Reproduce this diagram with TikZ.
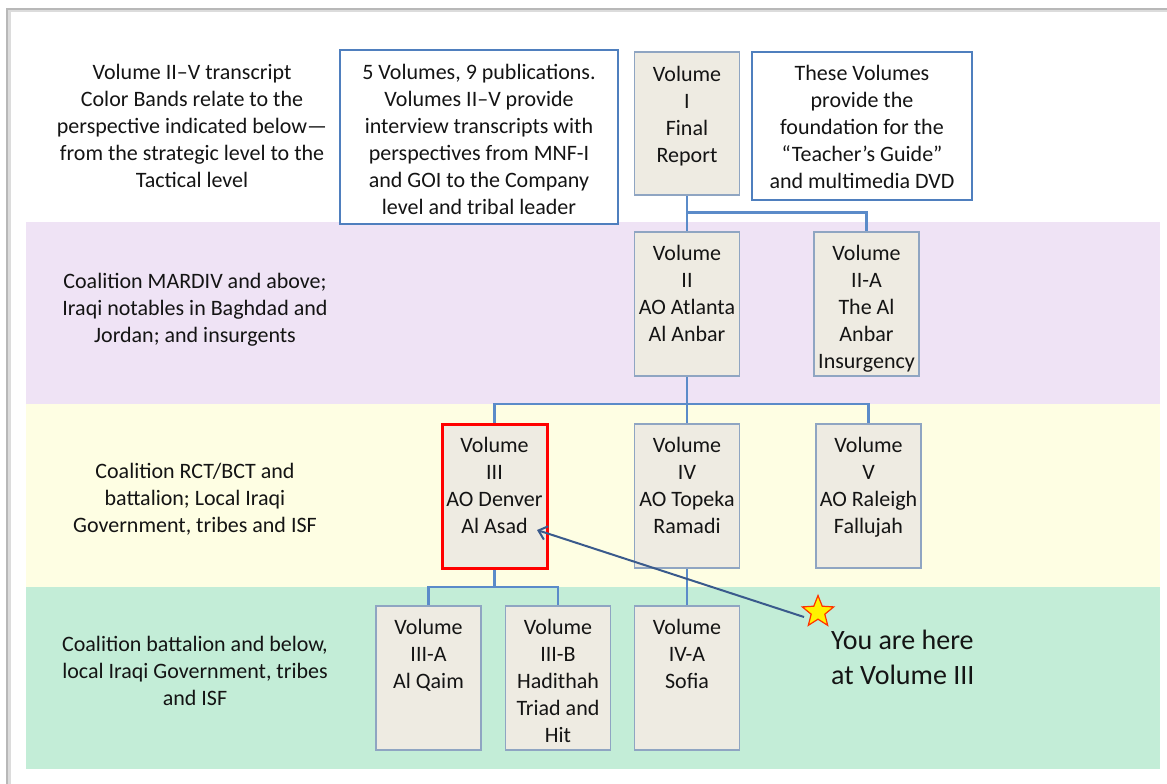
\documentclass[tikz,border=0pt]{standalone}
\usepackage{fontspec}
\setmainfont{Carlito}
\usetikzlibrary{arrows.meta,shapes.geometric}
\definecolor{bandP}{HTML}{EFE3F5}
\definecolor{bandY}{HTML}{FEFEE3}
\definecolor{bandG}{HTML}{C3EDD7}
\definecolor{volfill}{HTML}{EEEBE2}
\definecolor{volborder}{HTML}{8FA5C2}
\definecolor{infoblue}{HTML}{4F7FBE}
\definecolor{connblue}{HTML}{5B8BC9}
\definecolor{arrowblue}{HTML}{3A5A8C}
\definecolor{framegray}{HTML}{B8B8B8}
\begin{document}
\begin{tikzpicture}[x=1pt,y=-1pt,
  vol/.style={draw=volborder, fill=volfill, line width=1.5pt, minimum width=105pt, minimum height=144pt, inner sep=0pt},
  voltxt/.style={anchor=north, align=center, font=\fontsize{22}{27}\selectfont, inner sep=0pt, text=black!92},
  info/.style={draw=infoblue, fill=white, line width=2pt, inner sep=0pt},
  lbl/.style={anchor=north, align=center, font=\fontsize{22}{27}\selectfont, inner sep=0pt, text=black!92},
  conn/.style={draw=connblue, line width=2.5pt}
]
\useasboundingbox[fill=white] (0,0) rectangle (1167,784);
% frame
\draw[framegray!50, line width=3pt] (9,784) -- (9,11) -- (1167,11);
\draw[framegray, line width=1.2pt] (7,784) -- (7,9) -- (1167,9);
% bands
\fill[bandP] (26,222) rectangle (1160,404);
\fill[bandY] (26,404) rectangle (1160,587);
\fill[bandG] (26,587) rectangle (1160,769);
% left labels
\node[lbl] (intro) at (192,64) {Volume II–V transcript\\Color Bands relate to the\\perspective indicated below—\\from the strategic level to the\\Tactical level};
\node[lbl] (lblP) at (195,273) {Coalition MARDIV and above;\\Iraqi notables in Baghdad and\\Jordan; and insurgents};
\node[lbl] (lblY) at (195,463.5) {Coalition RCT/BCT and\\battalion; Local Iraqi\\Government, tribes and ISF};
\node[lbl] (lblG) at (195,636.5) {Coalition battalion and below,\\local Iraqi Government, tribes\\and ISF};
% info boxes
\node[info, minimum width=278pt, minimum height=174pt] (boxA) at (479,137) {};
\node[lbl] (boxAtxt) at (479,64.5) {5 Volumes, 9 publications.\\Volumes II–V provide\\interview transcripts with\\perspectives from MNF-I\\and GOI to the Company\\level and tribal leader};
\node[info, minimum width=220pt, minimum height=148pt] (boxC) at (862,126) {};
\node[lbl] (boxCtxt) at (862,65.5) {These Volumes\\provide the\\foundation for the\\“Teacher’s Guide”\\and multimedia DVD};
% junction coordinates
\coordinate (j1) at (687,212.5);
\coordinate (j2) at (687,404);
\coordinate (j3) at (494.5,587);
% volume box positions
\node[vol, minimum height=143pt] (v1) at (687,123.5) {};
\node[vol] (v2) at (687,304) {};
\node[vol] (v2a) at (866.5,304) {};
\node[vol] (v3) at (494.5,496) {};
\node[vol] (v4) at (687,496) {};
\node[vol] (v5) at (868.5,496) {};
\node[vol] (v3a) at (428.5,678) {};
\node[vol] (v3b) at (558,678) {};
\node[vol] (v4a) at (687,678) {};
% connectors
\draw[conn] (v1.south) -- (v2.north);
\draw[conn] (j1) -| (v2a.north);
\draw[conn] (v2.south) -- (v4.north);
\draw[conn] (v3.north) |- (j2) -| (v5.north);
\draw[conn] (v3.south) -- (j3);
\draw[conn] (v3a.north) |- (j3) -| (v3b.north);
\draw[conn] (v4.south) -- (v4a.north);
% boxes drawn over connectors
\node[vol, minimum height=143pt] at (v1) {};
\node[vol] at (v2) {};
\node[vol] at (v2a) {};
\node[vol, draw=red, line width=3pt] at (v3) {};
\node[vol] at (v4) {};
\node[vol] at (v5) {};
\node[vol] at (v3a) {};
\node[vol] at (v3b) {};
\node[vol] at (v4a) {};
% volume texts
\node[voltxt] (t1) at ([yshift=-14.5pt]v1.north) {Volume\\I\\Final\\Report};
\node[voltxt] (t2) at ([yshift=-13.5pt]v2.north) {Volume\\II\\AO Atlanta\\Al Anbar};
\node[voltxt] (t2a) at ([yshift=-13.5pt]v2a.north) {Volume\\II-A\\The Al\\Anbar\\Insurgency};
\node[voltxt] (t3) at ([yshift=-13.5pt]v3.north) {Volume\\III\\AO Denver\\Al Asad};
\node[voltxt] (t4) at ([yshift=-13.5pt]v4.north) {Volume\\IV\\AO Topeka\\Ramadi};
\node[voltxt] (t5) at ([yshift=-13.5pt]v5.north) {Volume\\V\\AO Raleigh\\Fallujah};
\node[voltxt] (t3a) at ([yshift=-14pt]v3a.north) {Volume\\III-A\\Al Qaim};
\node[voltxt] (t3b) at ([yshift=-14pt]v3b.north) {Volume\\III-B\\Hadithah\\Triad and\\Hit};
\node[voltxt] (t4a) at ([yshift=-14pt]v4a.north) {Volume\\IV-A\\Sofia};
% you are here
\node[star, star points=5, star point ratio=2.3, fill=yellow, draw=red!60!orange, line width=1.2pt, minimum size=33pt, inner sep=0pt] (star) at (818,612) {};
\coordinate (tail) at (804,617);
\coordinate (tip) at (537,530);
\draw[arrowblue, line width=2pt, -{Straight Barb[length=8pt,width=14pt]}] (tail) -- (tip);
\node[anchor=north west, align=left, inner sep=0pt, font=\fontsize{28}{35}\selectfont, text=black!92] (here) at (831,630) {You are here\\at Volume III};
\end{tikzpicture}
\end{document}
